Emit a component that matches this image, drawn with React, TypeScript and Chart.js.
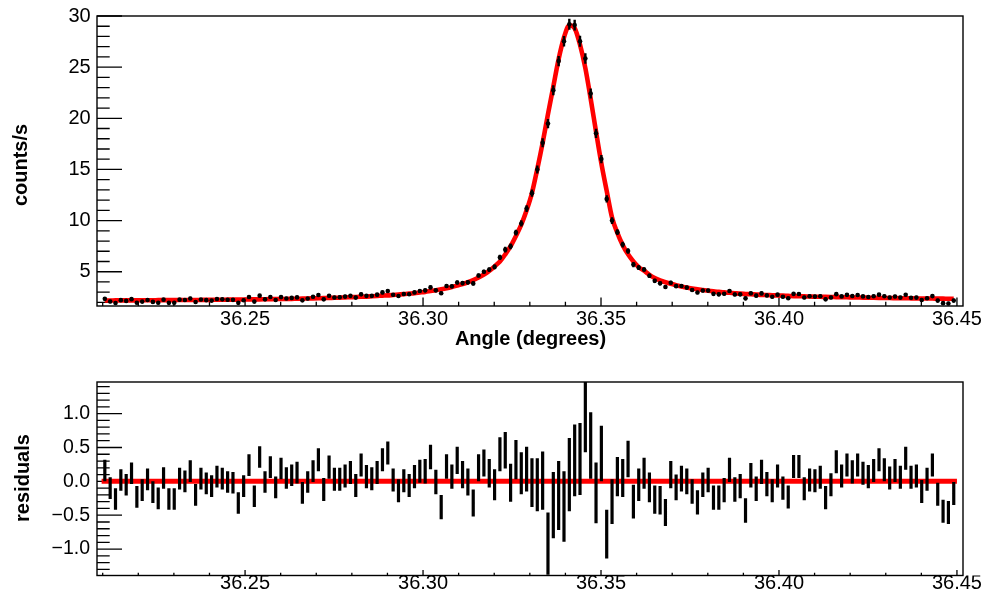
import React, { useEffect, useRef } from "react";
import { Chart, registerables } from "chart.js";

Chart.register(...registerables);

// ---------------- data ----------------
const ANGLES = [
  36.2106, 36.2121, 36.2136, 36.2151, 36.2166, 36.2181, 36.2196, 36.2211, 36.2226, 36.2241,
  36.2256, 36.2271, 36.2286, 36.2301, 36.2316, 36.2331, 36.2346, 36.2361, 36.2376, 36.2391,
  36.2406, 36.2421, 36.2436, 36.2451, 36.2466, 36.2481, 36.2496, 36.2511, 36.2526, 36.2541,
  36.2556, 36.2571, 36.2586, 36.2601, 36.2616, 36.2631, 36.2646, 36.2661, 36.2676, 36.2691,
  36.2706, 36.2721, 36.2736, 36.2751, 36.2766, 36.2781, 36.2796, 36.2811, 36.2826, 36.2841,
  36.2856, 36.2871, 36.2886, 36.2901, 36.2916, 36.2931, 36.2946, 36.2961, 36.2976, 36.2991,
  36.3006, 36.3021, 36.3036, 36.3051, 36.3066, 36.3081, 36.3096, 36.3111, 36.3126, 36.3141,
  36.3156, 36.3171, 36.3186, 36.3201, 36.3216, 36.3231, 36.3246, 36.3261, 36.3276, 36.3291,
  36.3306, 36.3321, 36.3336, 36.3351, 36.3366, 36.3381, 36.3396, 36.3411, 36.3426, 36.3441,
  36.3456, 36.3471, 36.3486, 36.3501, 36.3516, 36.3531, 36.3546, 36.3561, 36.3576, 36.3591,
  36.3606, 36.3621, 36.3636, 36.3651, 36.3666, 36.3681, 36.3696, 36.3711, 36.3726, 36.3741,
  36.3756, 36.3771, 36.3786, 36.3801, 36.3816, 36.3831, 36.3846, 36.3861, 36.3876, 36.3891,
  36.3906, 36.3921, 36.3936, 36.3951, 36.3966, 36.3981, 36.3996, 36.4011, 36.4026, 36.4041,
  36.4056, 36.4071, 36.4086, 36.4101, 36.4116, 36.4131, 36.4146, 36.4161, 36.4176, 36.4191,
  36.4206, 36.4221, 36.4236, 36.4251, 36.4266, 36.4281, 36.4296, 36.4311, 36.4326, 36.4341,
  36.4356, 36.4371, 36.4386, 36.4401, 36.4416, 36.4431, 36.4446, 36.4461, 36.4476, 36.4491,
];

const COUNTS = [
  2.35, 2.09, 1.94, 2.22, 2.15, 2.32, 1.97, 2.08, 2.24, 2.05,
  1.97, 2.27, 1.96, 1.97, 2.27, 2.23, 2.39, 2.04, 2.28, 2.22,
  2.18, 2.33, 2.30, 2.26, 2.25, 1.96, 2.21, 2.53, 2.08, 2.66,
  2.30, 2.53, 2.24, 2.52, 2.39, 2.44, 2.49, 2.20, 2.38, 2.55,
  2.73, 2.30, 2.65, 2.48, 2.50, 2.57, 2.64, 2.47, 2.79, 2.64,
  2.64, 2.76, 2.98, 3.11, 2.75, 2.63, 2.82, 2.80, 2.98, 3.12,
  3.18, 3.47, 3.18, 2.90, 3.60, 3.57, 3.95, 3.89, 3.96, 3.86,
  4.63, 5.00, 5.21, 5.47, 6.40, 7.16, 7.48, 8.82, 9.72, 11.18,
  12.68, 15.00, 17.61, 19.48, 22.75, 25.59, 27.53, 29.20, 29.11, 27.53,
  25.85, 22.43, 18.53, 16.01, 12.12, 10.00, 8.87, 7.65, 7.03, 5.70,
  5.40, 5.22, 4.61, 4.11, 3.87, 3.51, 3.92, 3.59, 3.60, 3.45,
  3.21, 2.97, 3.16, 3.16, 2.84, 2.79, 2.85, 3.11, 2.78, 2.79,
  2.40, 2.89, 2.66, 2.88, 2.68, 2.56, 2.76, 2.56, 2.41, 2.84,
  2.83, 2.48, 2.60, 2.57, 2.61, 2.30, 2.48, 2.81, 2.59, 2.74,
  2.63, 2.72, 2.59, 2.53, 2.61, 2.76, 2.60, 2.48, 2.58, 2.47,
  2.75, 2.46, 2.47, 2.24, 2.41, 2.62, 2.18, 1.93, 1.90, 2.18,
];

const ERRORS = [
  0.16, 0.16, 0.16, 0.16, 0.16, 0.16, 0.16, 0.16, 0.16, 0.16,
  0.16, 0.16, 0.16, 0.16, 0.16, 0.16, 0.16, 0.16, 0.16, 0.16,
  0.16, 0.16, 0.16, 0.16, 0.16, 0.16, 0.16, 0.16, 0.16, 0.16,
  0.16, 0.16, 0.16, 0.16, 0.16, 0.16, 0.16, 0.16, 0.16, 0.16,
  0.17, 0.17, 0.17, 0.17, 0.17, 0.17, 0.17, 0.17, 0.17, 0.17,
  0.17, 0.17, 0.17, 0.17, 0.17, 0.17, 0.17, 0.17, 0.17, 0.17,
  0.18, 0.18, 0.18, 0.18, 0.18, 0.18, 0.20, 0.20, 0.20, 0.20,
  0.20, 0.20, 0.21, 0.23, 0.25, 0.27, 0.28, 0.29, 0.31, 0.33,
  0.36, 0.39, 0.43, 0.46, 0.49, 0.51, 0.52, 0.54, 0.53, 0.53,
  0.52, 0.49, 0.45, 0.41, 0.36, 0.33, 0.29, 0.28, 0.27, 0.25,
  0.24, 0.23, 0.22, 0.21, 0.21, 0.20, 0.20, 0.19, 0.19, 0.19,
  0.18, 0.18, 0.18, 0.18, 0.18, 0.18, 0.18, 0.18, 0.18, 0.18,
  0.18, 0.18, 0.18, 0.18, 0.18, 0.17, 0.17, 0.17, 0.17, 0.17,
  0.17, 0.17, 0.17, 0.17, 0.17, 0.17, 0.17, 0.17, 0.17, 0.17,
  0.17, 0.17, 0.17, 0.17, 0.17, 0.17, 0.17, 0.17, 0.17, 0.17,
  0.17, 0.17, 0.17, 0.17, 0.17, 0.17, 0.17, 0.17, 0.17, 0.17,
];

const FIT = [
  2.19, 2.19, 2.20, 2.20, 2.20, 2.20, 2.20, 2.21, 2.21, 2.21,
  2.22, 2.22, 2.22, 2.23, 2.23, 2.23, 2.24, 2.24, 2.24, 2.25,
  2.25, 2.26, 2.26, 2.27, 2.27, 2.28, 2.28, 2.29, 2.30, 2.30,
  2.31, 2.32, 2.33, 2.33, 2.34, 2.35, 2.36, 2.37, 2.39, 2.40,
  2.41, 2.42, 2.44, 2.45, 2.47, 2.49, 2.51, 2.53, 2.55, 2.57,
  2.60, 2.63, 2.66, 2.69, 2.73, 2.77, 2.81, 2.86, 2.91, 2.97,
  3.03, 3.11, 3.19, 3.28, 3.38, 3.50, 3.64, 3.79, 3.97, 4.18,
  4.43, 4.73, 5.09, 5.52, 6.00, 6.70, 7.50, 8.50, 9.60, 11.00,
  12.70, 15.05, 17.60, 20.40, 23.10, 25.80, 27.90, 29.10, 28.80, 27.20,
  24.90, 21.90, 18.70, 15.60, 12.90, 10.30, 8.80, 7.60, 6.70, 6.00,
  5.45, 5.10, 4.70, 4.38, 4.15, 3.97, 3.82, 3.68, 3.56, 3.45,
  3.36, 3.28, 3.21, 3.14, 3.08, 3.03, 2.98, 2.94, 2.90, 2.86,
  2.83, 2.80, 2.77, 2.74, 2.72, 2.70, 2.68, 2.66, 2.64, 2.62,
  2.61, 2.59, 2.58, 2.56, 2.55, 2.54, 2.53, 2.52, 2.51, 2.50,
  2.49, 2.48, 2.47, 2.46, 2.45, 2.44, 2.43, 2.43, 2.42, 2.41,
  2.41, 2.40, 2.39, 2.39, 2.38, 2.38, 2.37, 2.37, 2.36, 2.36,
];

const RESIDUALS = [
  0.16, -0.10, -0.26, 0.02, -0.05, 0.12, -0.23, -0.13, 0.03, -0.16,
  -0.25, 0.05, -0.26, -0.26, 0.04, 0.00, 0.15, -0.20, 0.04, -0.03,
  -0.07, 0.07, 0.04, -0.01, -0.02, -0.32, -0.07, 0.24, -0.22, 0.36,
  -0.01, 0.21, -0.09, 0.19, 0.05, 0.09, 0.13, -0.17, -0.01, 0.15,
  0.32, -0.12, 0.21, 0.03, 0.03, 0.08, 0.13, -0.06, 0.24, 0.07,
  0.04, 0.13, 0.32, 0.42, 0.02, -0.14, 0.01, -0.06, 0.07, 0.15,
  0.15, 0.36, -0.01, -0.38, 0.22, 0.07, 0.31, 0.10, -0.01, -0.32,
  0.20, 0.27, 0.12, -0.05, 0.40, 0.46, -0.02, 0.32, 0.12, 0.18,
  -0.02, -0.05, 0.01, -0.92, -0.35, -0.21, -0.37, 0.10, 0.31, 0.33,
  0.95, 0.53, -0.17, 0.41, -0.78, -0.30, 0.07, 0.05, 0.33, -0.30,
  -0.05, 0.12, -0.09, -0.27, -0.28, -0.46, 0.10, -0.09, 0.04, 0.00,
  -0.15, -0.31, -0.05, 0.02, -0.24, -0.24, -0.13, 0.17, -0.12, -0.07,
  -0.43, 0.09, -0.11, 0.14, -0.04, -0.14, 0.08, -0.10, -0.23, 0.22,
  0.22, -0.11, 0.02, 0.01, 0.06, -0.24, -0.05, 0.29, 0.08, 0.24,
  0.14, 0.24, 0.12, 0.07, 0.16, 0.32, 0.17, 0.05, 0.16, 0.06,
  0.34, 0.06, 0.08, -0.15, 0.03, 0.24, -0.19, -0.44, -0.46, -0.18,
];

const FIT_RANGE = [36.2097, 36.45];
const RESIDUAL_BASELINE = 0;

const X_RANGE = [36.2084, 36.4517];
const Y_RANGE_TOP = [1.65, 30];
const Y_RANGE_RES = [-1.39, 1.467];

const X_TITLE = "Angle (degrees)";
const Y_TITLE_TOP = "counts/s";
const Y_TITLE_RES = "residuals";

// ---------------- styling ----------------
const FONT = "'Liberation Sans', Arial, Helvetica, sans-serif";
const W = 987;
const TOP_H = 360;
const BOT_H = 237;

type TickCfg = {
  xMinor: number; xRatio: number; xMajorLen: number; xMinorLen: number;
  yMinor: number; yRatio: number; yMajorLen: number; yMinorLen: number;
};

function tickList(min: number, max: number, minor: number, ratio: number) {
  const out: { v: number; major: boolean }[] = [];
  const k0 = Math.ceil(min / minor - 1e-6);
  const k1 = Math.floor(max / minor + 1e-6);
  for (let k = k0; k <= k1; k++) out.push({ v: k * minor, major: k % ratio === 0 });
  return out;
}

function framePlugin(cfg: TickCfg) {
  return {
    id: "rootFrame",
    beforeDatasetsDraw(chart: any) {
      const { ctx, chartArea: a, scales } = chart;
      const xs = scales.x;
      const ys = scales.y;
      ctx.save();
      ctx.strokeStyle = "#000";
      ctx.lineWidth = 1.4;
      ctx.lineCap = "butt";
      ctx.strokeRect(a.left, a.top, a.right - a.left, a.bottom - a.top);
      ctx.lineWidth = 1.3;
      ctx.beginPath();
      for (const t of tickList(xs.min, xs.max, cfg.xMinor, cfg.xRatio)) {
        const px = xs.getPixelForValue(t.v);
        const len = t.major ? cfg.xMajorLen : cfg.xMinorLen;
        ctx.moveTo(px, a.bottom);
        ctx.lineTo(px, a.bottom - len);
      }
      for (const t of tickList(ys.min, ys.max, cfg.yMinor, cfg.yRatio)) {
        const py = ys.getPixelForValue(t.v);
        const len = t.major ? cfg.yMajorLen : cfg.yMinorLen;
        ctx.moveTo(a.left, py);
        ctx.lineTo(a.left + len, py);
      }
      ctx.stroke();
      ctx.restore();
    },
  };
}

function errorBarPlugin(values: number[], errors: number[], width: number) {
  return {
    id: "errorBars",
    afterDatasetsDraw(chart: any) {
      const { ctx, chartArea: a, scales } = chart;
      const xs = scales.x;
      const ys = scales.y;
      ctx.save();
      ctx.beginPath();
      ctx.rect(a.left, a.top, a.right - a.left, a.bottom - a.top);
      ctx.clip();
      ctx.strokeStyle = "#000";
      ctx.lineWidth = width;
      ctx.lineCap = "butt";
      ctx.beginPath();
      ANGLES.forEach((ang, i) => {
        const px = xs.getPixelForValue(ang);
        const top = ys.getPixelForValue(values[i] + errors[i]);
        const bot = ys.getPixelForValue(values[i] - errors[i]);
        ctx.moveTo(px, top);
        ctx.lineTo(px, bot);
      });
      ctx.stroke();
      ctx.restore();
    },
  };
}

function titlePlugin(items: { text: string; x: number; y: number; rotate: boolean }[]) {
  return {
    id: "titles",
    afterDraw(chart: any) {
      const ctx = chart.ctx;
      ctx.save();
      ctx.fillStyle = "#000";
      ctx.font = `bold 20px ${FONT}`;
      ctx.textAlign = "center";
      ctx.textBaseline = "alphabetic";
      for (const it of items) {
        ctx.save();
        ctx.translate(it.x, it.y);
        if (it.rotate) ctx.rotate(-Math.PI / 2);
        ctx.fillText(it.text, 0, 0);
        ctx.restore();
      }
      ctx.restore();
    },
  };
}

const minusFmt = (v: number, digits: number) => {
  const s = Math.abs(v).toFixed(digits);
  return v < -1e-9 ? "\u2212" + s : s;
};

function xScale(height: number, pad: number) {
  return {
    type: "linear" as const,
    position: "bottom" as const,
    min: X_RANGE[0],
    max: X_RANGE[1],
    grid: { display: false, drawTicks: false },
    border: { display: false },
    ticks: {
      stepSize: 0.05,
      includeBounds: false,
      autoSkip: false,
      maxRotation: 0,
      minRotation: 0,
      padding: pad,
      color: "#000",
      font: { family: FONT, size: 20, lineHeight: 1 },
      callback: (v: any) => Number(v).toFixed(2),
    },
    afterFit: (s: any) => {
      s.height = height;
      s.paddingLeft = 0;
      s.paddingRight = 0;
    },
  };
}

function yScale(range: number[], step: number, pad: number, size: number, fmt: (v: number) => string) {
  return {
    type: "linear" as const,
    position: "left" as const,
    min: range[0],
    max: range[1],
    grid: { display: false, drawTicks: false },
    border: { display: false },
    ticks: {
      stepSize: step,
      includeBounds: false,
      autoSkip: false,
      padding: pad,
      color: "#000",
      font: { family: FONT, size, lineHeight: 1 },
      callback: (v: any) => fmt(Number(v)),
    },
    afterFit: (s: any) => {
      s.width = 97;
      s.paddingTop = 0;
      s.paddingBottom = 0;
    },
  };
}

export default function App() {
  const topRef = useRef<HTMLCanvasElement>(null);
  const botRef = useRef<HTMLCanvasElement>(null);

  useEffect(() => {
    const common = {
      responsive: false,
      animation: false as const,
      devicePixelRatio: 1,
      events: [] as any[],
      plugins: { legend: { display: false }, tooltip: { enabled: false } },
    };

    const top = new Chart(topRef.current!, {
      type: "scatter",
      data: {
        datasets: [
          {
            type: "scatter",
            data: ANGLES.map((x, i) => ({ x, y: COUNTS[i] })),
            pointRadius: 2.3,
            pointBorderWidth: 0,
            pointBackgroundColor: "#000",
            order: 0,
          },
          {
            type: "line",
            data: ANGLES.map((x, i) => ({ x, y: FIT[i] })),
            borderColor: "#ff0000",
            borderWidth: 4.6,
            pointRadius: 0,
            cubicInterpolationMode: "monotone",
            fill: false,
            order: 1,
          } as any,
        ],
      },
      options: {
        ...common,
        layout: { padding: { left: 0, right: W - 963, top: 16, bottom: 0 } },
        scales: {
          x: xScale(TOP_H - 306, 3.2),
          y: yScale(Y_RANGE_TOP, 5, 6.3, 20, (v) => String(Math.round(v))),
        },
      } as any,
      plugins: [
        framePlugin({ xMinor: 0.01, xRatio: 5, xMajorLen: 8.5, xMinorLen: 4.3, yMinor: 1, yRatio: 5, yMajorLen: 25, yMinorLen: 12.7 }),
        errorBarPlugin(COUNTS, ERRORS, 2.4),
        titlePlugin([
          { text: X_TITLE, x: 530.5, y: 345, rotate: false },
          { text: Y_TITLE_TOP, x: 27, y: 165, rotate: true },
        ]),
      ],
    });

    const bot = new Chart(botRef.current!, {
      type: "scatter",
      data: {
        datasets: [
          {
            type: "scatter",
            data: ANGLES.map((x, i) => ({ x, y: RESIDUALS[i] })),
            pointRadius: 1,
            pointBorderWidth: 0,
            pointBackgroundColor: "#000",
            order: 0,
          },
          {
            type: "line",
            data: FIT_RANGE.map((x) => ({ x, y: RESIDUAL_BASELINE })),
            borderColor: "#ff0000",
            borderWidth: 5,
            pointRadius: 0,
            fill: false,
            order: 1,
          } as any,
        ],
      },
      options: {
        ...common,
        layout: { padding: { left: 0, right: W - 963, top: 22, bottom: 0 } },
        scales: {
          x: xScale(BOT_H - 215.5, -1.8),
          y: yScale(Y_RANGE_RES, 0.5, 7, 19.5, (v) => minusFmt(v, 1)),
        },
      } as any,
      plugins: [
        framePlugin({ xMinor: 0.01, xRatio: 5, xMajorLen: 5.5, xMinorLen: 2.7, yMinor: 0.1, yRatio: 5, yMajorLen: 25, yMinorLen: 12.7 }),
        errorBarPlugin(RESIDUALS, ERRORS, 3.2),
        titlePlugin([{ text: Y_TITLE_RES, x: 28.5, y: 478 - TOP_H, rotate: true }]),
      ],
    });

    return () => {
      top.destroy();
      bot.destroy();
    };
  }, []);

  return (
    <div style={{ position: "fixed", left: 0, top: 0, width: W, height: TOP_H + BOT_H, background: "#fff" }}>
      <canvas ref={topRef} width={W} height={TOP_H} style={{ position: "absolute", left: 0, top: 0 }} />
      <canvas ref={botRef} width={W} height={BOT_H} style={{ position: "absolute", left: 0, top: TOP_H }} />
    </div>
  );
}
